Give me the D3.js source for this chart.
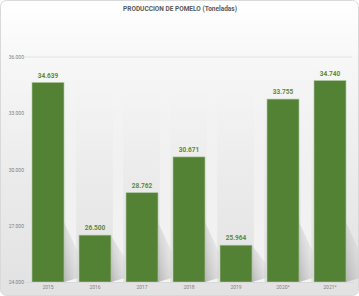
<!DOCTYPE html>
<html><head><meta charset="utf-8">
<script src="https://cdn.jsdelivr.net/npm/d3@7"></script>
<style>html,body{margin:0;padding:0;background:#fff;}svg{display:block;}</style>
</head><body>
<script>
const categories = ["2015","2016","2017","2018","2019","2020*","2021*"];
const values = [34639, 26500, 28762, 30671, 25964, 33755, 34740];
const valueLabels = ["34.639","26.500","28.762","30.671","25.964","33.755","34.740"];
const yTicks = [24000, 27000, 30000, 33000, 36000];
const yTickLabels = ["24.000","27.000","30.000","33.000","36.000"];
const title = "PRODUCCION DE POMELO (Toneladas)";

const W = 359, H = 296;
const svg = d3.select("body").append("svg").attr("width", W).attr("height", H);
const defs = svg.append("defs");
const bg = defs.append("linearGradient").attr("id","bg").attr("x1",0).attr("y1",0).attr("x2",0).attr("y2",1);
bg.append("stop").attr("offset","0%").attr("stop-color","#ffffff");
bg.append("stop").attr("offset","20%").attr("stop-color","#f7f7f7");
bg.append("stop").attr("offset","60%").attr("stop-color","#ebebeb");
bg.append("stop").attr("offset","100%").attr("stop-color","#e2e2e2");
const sh = defs.append("linearGradient").attr("id","sh").attr("x1",0).attr("y1",1).attr("x2",1).attr("y2",0);
sh.append("stop").attr("offset","0%").attr("stop-color","#b0b0b0").attr("stop-opacity",0.9);
sh.append("stop").attr("offset","100%").attr("stop-color","#d8d8d8").attr("stop-opacity",0.1);
const band = defs.append("linearGradient").attr("id","band").attr("x1",0).attr("y1",0).attr("x2",0).attr("y2",1);
band.append("stop").attr("offset","0%").attr("stop-color","#ffffff").attr("stop-opacity",0);
band.append("stop").attr("offset","100%").attr("stop-color","#ffffff").attr("stop-opacity",0.6);

svg.append("rect").attr("x",0.5).attr("y",0.5).attr("width",W-1).attr("height",H-1)
  .attr("rx",6).attr("fill","url(#bg)").attr("stroke","#d9d9d9");

const x = d3.scaleBand().domain(categories).range([24.5, 353.5]).paddingInner(0.32).paddingOuter(0.16);
const y = d3.scaleLinear().domain([24000, 36000]).range([282, 57]);

// light vertical bands between bars
svg.append("g").selectAll("rect").data(categories.slice(1)).join("rect")
  .attr("x",c=>x(c)-x.step()*0.28).attr("width",x.step()*0.22)
  .attr("y",80).attr("height",y(24000)-80).attr("fill","url(#band)");

// gridline at top
svg.append("line").attr("x1",24).attr("x2",352).attr("y1",y(36000)).attr("y2",y(36000))
  .attr("stroke","#e3e3e3").attr("stroke-width",1);

// y axis
const yAxis = d3.axisLeft(y).tickValues(yTicks).tickFormat((d,i)=>yTickLabels[i]).tickSize(0);
const gy = svg.append("g").attr("transform","translate(25,0)").call(yAxis);
gy.select(".domain").remove();
gy.selectAll("text").attr("font-family","Roboto, sans-serif").attr("font-size",5).attr("fill","#7f7f7f").attr("dx",2);

// shadows
svg.append("g").selectAll("path").data(categories).join("path")
  .attr("d",(c,i)=>{
    const x1 = x(c)+x.bandwidth(), yb = y(24000), yt = y(values[i]);
    const h = Math.min(yb-yt, 60);
    return `M${x1},${yb} L${x1+14},${yb-4} L${x1+14},${yb-h*0.5} L${x1},${yb-h}Z`;
  }).attr("fill","url(#sh)");

// bars
svg.append("g").selectAll("rect").data(categories).join("rect")
  .attr("x",c=>x(c)).attr("width",x.bandwidth())
  .attr("y",(c,i)=>y(values[i])).attr("height",(c,i)=>y(24000)-y(values[i]))
  .attr("fill","#548235").attr("stroke","#a9c49a").attr("stroke-width",0.6);

// value labels
svg.append("g").selectAll("text").data(categories).join("text")
  .attr("x",c=>x(c)+x.bandwidth()/2).attr("y",(c,i)=>y(values[i])-5)
  .attr("text-anchor","middle").attr("font-family","Roboto, sans-serif").attr("font-weight","bold")
  .attr("font-size",6.5).attr("fill","#5a8a3a").text((c,i)=>valueLabels[i]);

// x axis
const xAxis = d3.axisBottom(x).tickSize(0);
const gx = svg.append("g").attr("transform",`translate(0,${y(24000)})`).call(xAxis);
gx.select(".domain").attr("stroke","#d9d9d9");
gx.selectAll("text").attr("font-family","Roboto, sans-serif").attr("font-size",5).attr("fill","#7f7f7f").attr("dy",4);

// title
svg.append("text").attr("x",180).attr("y",11).attr("text-anchor","middle")
  .attr("font-family","Roboto, sans-serif").attr("font-weight","bold").attr("font-size",6.5)
  .attr("fill","#595959").text(title);
</script>
</body></html>
